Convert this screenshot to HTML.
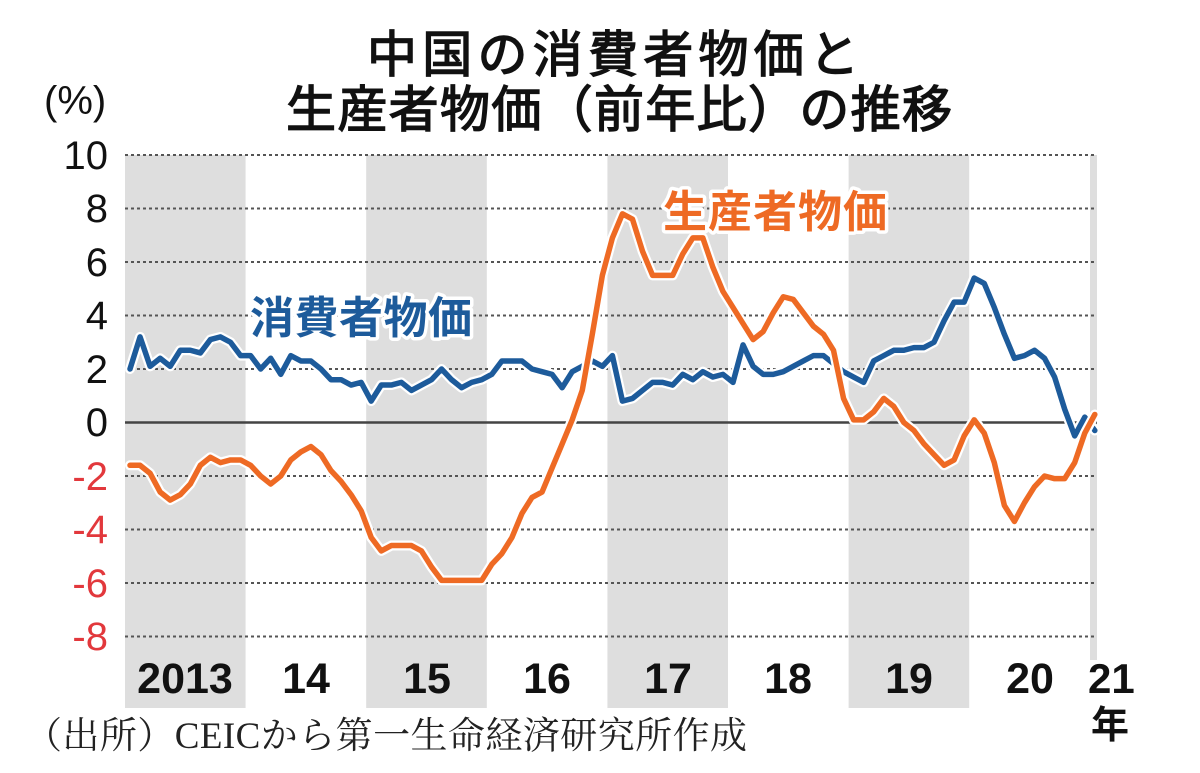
<!DOCTYPE html>
<html>
<head>
<meta charset="utf-8">
<style>
  html, body { margin:0; padding:0; background:#fff; }
  svg { display:block; }
  .sans { font-family: "Liberation Sans", "Noto Sans CJK JP", sans-serif; }
  .serif { font-family: "Liberation Serif", "Noto Serif CJK SC", serif; }
</style>
</head>
<body>
<svg width="1200" height="773" viewBox="0 0 1200 773" xmlns="http://www.w3.org/2000/svg">
  <rect x="0" y="0" width="1200" height="773" fill="#fff"/>

  <!-- shaded year bands -->
  <g fill="#dedede">
    <rect x="125" y="155" width="120.6" height="553"/>
    <rect x="366.2" y="155" width="120.6" height="553"/>
    <rect x="607.4" y="155" width="120.6" height="553"/>
    <rect x="848.6" y="155" width="120.6" height="553"/>
    <rect x="1090" y="155" width="7" height="505"/>
  </g>

  <!-- gridlines -->
  <g stroke="#555" stroke-width="2" stroke-dasharray="3 3" fill="none">
    <line x1="125" y1="155" x2="1097" y2="155"/>
    <line x1="125" y1="208.5" x2="1097" y2="208.5"/>
    <line x1="125" y1="262" x2="1097" y2="262"/>
    <line x1="125" y1="315.5" x2="1097" y2="315.5"/>
    <line x1="125" y1="369" x2="1097" y2="369"/>
    <line x1="125" y1="476" x2="1097" y2="476"/>
    <line x1="125" y1="529.5" x2="1097" y2="529.5"/>
    <line x1="125" y1="583" x2="1097" y2="583"/>
    <line x1="125" y1="636.5" x2="1097" y2="636.5"/>
  </g>
  <line x1="125" y1="422.5" x2="1097" y2="422.5" stroke="#444" stroke-width="2.5"/>

  <!-- series -->
  <g transform="translate(130,422.5) scale(10.05,-26.75)" fill="none" stroke-linejoin="round" stroke-linecap="round">
    <polyline vector-effect="non-scaling-stroke" stroke="#fff" stroke-width="10"
      points="0,2.0 1,3.2 2,2.1 3,2.4 4,2.1 5,2.7 6,2.7 7,2.6 8,3.1 9,3.2 10,3.0 11,2.5 12,2.5 13,2.0 14,2.4 15,1.8 16,2.5 17,2.3 18,2.3 19,2.0 20,1.6 21,1.6 22,1.4 23,1.5 24,0.8 25,1.4 26,1.4 27,1.5 28,1.2 29,1.4 30,1.6 31,2.0 32,1.6 33,1.3 34,1.5 35,1.6 36,1.8 37,2.3 38,2.3 39,2.3 40,2.0 41,1.9 42,1.8 43,1.3 44,1.9 45,2.1 46,2.3 47,2.1 48,2.5 49,0.8 50,0.9 51,1.2 52,1.5 53,1.5 54,1.4 55,1.8 56,1.6 57,1.9 58,1.7 59,1.8 60,1.5 61,2.9 62,2.1 63,1.8 64,1.8 65,1.9 66,2.1 67,2.3 68,2.5 69,2.5 70,2.2 71,1.9 72,1.7 73,1.5 74,2.3 75,2.5 76,2.7 77,2.7 78,2.8 79,2.8 80,3.0 81,3.8 82,4.5 83,4.5 84,5.4 85,5.2 86,4.3 87,3.3 88,2.4 89,2.5 90,2.7 91,2.4 92,1.7 93,0.5 94,-0.5 95,0.2 96,-0.3"/>
    <polyline vector-effect="non-scaling-stroke" stroke="#1d5b9b" stroke-width="5.5"
      points="0,2.0 1,3.2 2,2.1 3,2.4 4,2.1 5,2.7 6,2.7 7,2.6 8,3.1 9,3.2 10,3.0 11,2.5 12,2.5 13,2.0 14,2.4 15,1.8 16,2.5 17,2.3 18,2.3 19,2.0 20,1.6 21,1.6 22,1.4 23,1.5 24,0.8 25,1.4 26,1.4 27,1.5 28,1.2 29,1.4 30,1.6 31,2.0 32,1.6 33,1.3 34,1.5 35,1.6 36,1.8 37,2.3 38,2.3 39,2.3 40,2.0 41,1.9 42,1.8 43,1.3 44,1.9 45,2.1 46,2.3 47,2.1 48,2.5 49,0.8 50,0.9 51,1.2 52,1.5 53,1.5 54,1.4 55,1.8 56,1.6 57,1.9 58,1.7 59,1.8 60,1.5 61,2.9 62,2.1 63,1.8 64,1.8 65,1.9 66,2.1 67,2.3 68,2.5 69,2.5 70,2.2 71,1.9 72,1.7 73,1.5 74,2.3 75,2.5 76,2.7 77,2.7 78,2.8 79,2.8 80,3.0 81,3.8 82,4.5 83,4.5 84,5.4 85,5.2 86,4.3 87,3.3 88,2.4 89,2.5 90,2.7 91,2.4 92,1.7 93,0.5 94,-0.5 95,0.2 96,-0.3"/>
    <polyline vector-effect="non-scaling-stroke" stroke="#fff" stroke-width="10"
      points="0,-1.6 1,-1.6 2,-1.9 3,-2.6 4,-2.9 5,-2.7 6,-2.3 7,-1.6 8,-1.3 9,-1.5 10,-1.4 11,-1.4 12,-1.6 13,-2.0 14,-2.3 15,-2.0 16,-1.4 17,-1.1 18,-0.9 19,-1.2 20,-1.8 21,-2.2 22,-2.7 23,-3.3 24,-4.3 25,-4.8 26,-4.6 27,-4.6 28,-4.6 29,-4.8 30,-5.4 31,-5.9 32,-5.9 33,-5.9 34,-5.9 35,-5.9 36,-5.3 37,-4.9 38,-4.3 39,-3.4 40,-2.8 41,-2.6 42,-1.7 43,-0.8 44,0.1 45,1.2 46,3.3 47,5.5 48,6.9 49,7.8 50,7.6 51,6.4 52,5.5 53,5.5 54,5.5 55,6.3 56,6.9 57,6.9 58,5.8 59,4.9 60,4.3 61,3.7 62,3.1 63,3.4 64,4.1 65,4.7 66,4.6 67,4.1 68,3.6 69,3.3 70,2.7 71,0.9 72,0.1 73,0.1 74,0.4 75,0.9 76,0.6 77,0.0 78,-0.3 79,-0.8 80,-1.2 81,-1.6 82,-1.4 83,-0.5 84,0.1 85,-0.4 86,-1.5 87,-3.1 88,-3.7 89,-3.0 90,-2.4 91,-2.0 92,-2.1 93,-2.1 94,-1.5 95,-0.4 96,0.3"/>
    <polyline vector-effect="non-scaling-stroke" stroke="#ee6a24" stroke-width="5.5"
      points="0,-1.6 1,-1.6 2,-1.9 3,-2.6 4,-2.9 5,-2.7 6,-2.3 7,-1.6 8,-1.3 9,-1.5 10,-1.4 11,-1.4 12,-1.6 13,-2.0 14,-2.3 15,-2.0 16,-1.4 17,-1.1 18,-0.9 19,-1.2 20,-1.8 21,-2.2 22,-2.7 23,-3.3 24,-4.3 25,-4.8 26,-4.6 27,-4.6 28,-4.6 29,-4.8 30,-5.4 31,-5.9 32,-5.9 33,-5.9 34,-5.9 35,-5.9 36,-5.3 37,-4.9 38,-4.3 39,-3.4 40,-2.8 41,-2.6 42,-1.7 43,-0.8 44,0.1 45,1.2 46,3.3 47,5.5 48,6.9 49,7.8 50,7.6 51,6.4 52,5.5 53,5.5 54,5.5 55,6.3 56,6.9 57,6.9 58,5.8 59,4.9 60,4.3 61,3.7 62,3.1 63,3.4 64,4.1 65,4.7 66,4.6 67,4.1 68,3.6 69,3.3 70,2.7 71,0.9 72,0.1 73,0.1 74,0.4 75,0.9 76,0.6 77,0.0 78,-0.3 79,-0.8 80,-1.2 81,-1.6 82,-1.4 83,-0.5 84,0.1 85,-0.4 86,-1.5 87,-3.1 88,-3.7 89,-3.0 90,-2.4 91,-2.0 92,-2.1 93,-2.1 94,-1.5 95,-0.4 96,0.3"/>
  </g>

  <!-- title -->
  <g class="sans" font-weight="normal" fill="#111" stroke="#111" stroke-width="1.4" font-size="50">
    <text x="367" y="72" textLength="492" lengthAdjust="spacing">中国の消費者物価と</text>
    <text x="286" y="127" textLength="666" lengthAdjust="spacing">生産者物価（前年比）の推移</text>
  </g>

  <!-- unit -->
  <text class="sans" x="44" y="114" font-size="40" fill="#111">(%)</text>

  <!-- y tick labels -->
  <g class="sans" font-size="40" text-anchor="end">
    <text x="108" y="169" fill="#111">10</text>
    <text x="108" y="222" fill="#111">8</text>
    <text x="108" y="276" fill="#111">6</text>
    <text x="108" y="329" fill="#111">4</text>
    <text x="108" y="383" fill="#111">2</text>
    <text x="108" y="436" fill="#111">0</text>
    <text x="108" y="490" fill="#e2383c">-2</text>
    <text x="108" y="543" fill="#e2383c">-4</text>
    <text x="108" y="597" fill="#e2383c">-6</text>
    <text x="108" y="650" fill="#e2383c">-8</text>
  </g>

  <!-- x labels -->
  <g class="sans" font-size="43" font-weight="bold" fill="#111" text-anchor="middle">
    <text x="185" y="693">2013</text>
    <text x="306" y="693">14</text>
    <text x="427" y="693">15</text>
    <text x="547" y="693">16</text>
    <text x="668" y="693">17</text>
    <text x="788" y="693">18</text>
    <text x="909" y="693">19</text>
    <text x="1030" y="693">20</text>
  </g>
  <text class="sans" x="1088" y="693" font-size="42" font-weight="bold" fill="#111">21</text>
  <text class="sans" x="1091" y="738" font-size="38" font-weight="bold" fill="#111">年</text>

  <!-- series labels -->
  <g class="sans" font-size="44" font-weight="bold" stroke="#fff" stroke-width="7" paint-order="stroke" stroke-linejoin="round">
    <text x="250" y="333" fill="#1d5b9b" textLength="222" lengthAdjust="spacing">消費者物価</text>
    <text x="663" y="227" fill="#ee6a24" textLength="224" lengthAdjust="spacing">生産者物価</text>
  </g>

  <!-- source -->
  <text class="serif" x="25" y="748" font-size="37" fill="#222" textLength="722" lengthAdjust="spacing">（出所）CEICから第一生命経済研究所作成</text>
</svg>
</body>
</html>
